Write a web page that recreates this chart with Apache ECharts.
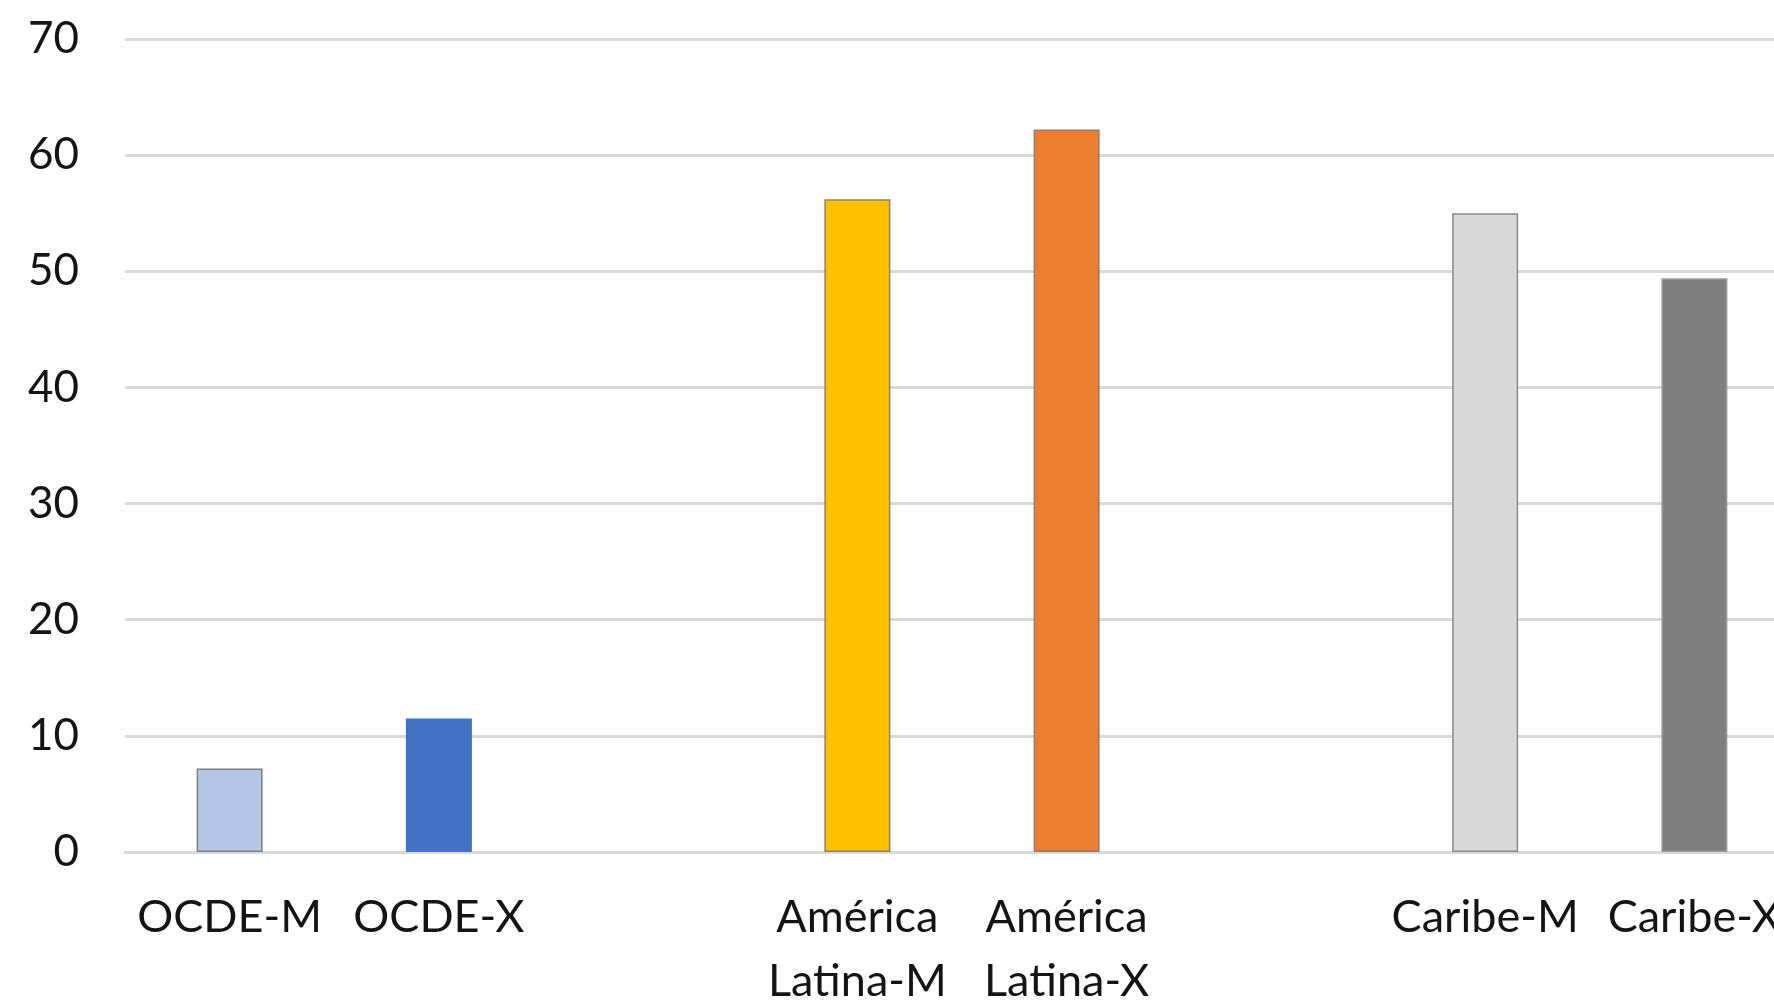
<!DOCTYPE html>
<html>
<head>
<meta charset="utf-8">
<script src="https://cdn.jsdelivr.net/npm/echarts@6/dist/echarts.min.js"></script>
<style>
html,body{margin:0;padding:0;background:#fff;}
#chart{width:1774px;height:1002px;}
</style>
</head>
<body>
<div id="chart"></div>
<script>
const categories = ['OCDE-M', 'OCDE-X', '', 'América\nLatina-M', 'América\nLatina-X', '', 'Caribe-M', 'Caribe-X'];
const values = [7.2, 11.5, null, 56.2, 62.2, null, 55.0, 49.4];
const yTicks = { min: 0, max: 70, interval: 10 };

const fillColors = ['#B4C7E7', '#4472C4', '#ffffff', '#FFC000', '#ED7D31', '#ffffff', '#D9D9D9', '#7F7F7F'];
const borderColors = ['#7f7f7f', '#4472C4', '#ffffff', '#8f8060', '#8f7f70', '#ffffff', '#8a8a8a', '#9a9a9a'];

const chart = echarts.init(document.getElementById('chart'), null, { renderer: 'canvas' });
const font = 'Lato, "Noto Sans", sans-serif';
chart.setOption({
  animation: false,
  backgroundColor: '#ffffff',
  grid: { left: 125, top: 39, bottom: 150, width: 1674, containLabel: false, outerBoundsMode: 'none' },
  xAxis: {
    type: 'category',
    data: categories,
    boundaryGap: true,
    axisLine: { show: true, lineStyle: { color: '#d9d9d9', width: 3 } },
    axisTick: { show: false },
    axisLabel: {
      interval: 0,
      margin: 33,
      fontFamily: font,
      fontSize: 45,
      lineHeight: 64,
      color: '#141414'
    }
  },
  yAxis: {
    type: 'value',
    min: yTicks.min,
    max: yTicks.max,
    interval: yTicks.interval,
    axisLine: { show: false },
    axisTick: { show: false },
    splitLine: { lineStyle: { color: '#d9d9d9', width: 3 } },
    axisLabel: {
      margin: 46,
      fontFamily: font,
      fontSize: 44,
      color: '#141414'
    }
  },
  series: [{
    type: 'bar',
    data: values.map((v, i) => ({
      value: v,
      itemStyle: { color: fillColors[i], borderColor: borderColors[i], borderWidth: 1.5 }
    })),
    barWidth: 66
  }]
});
</script>
</body>
</html>
